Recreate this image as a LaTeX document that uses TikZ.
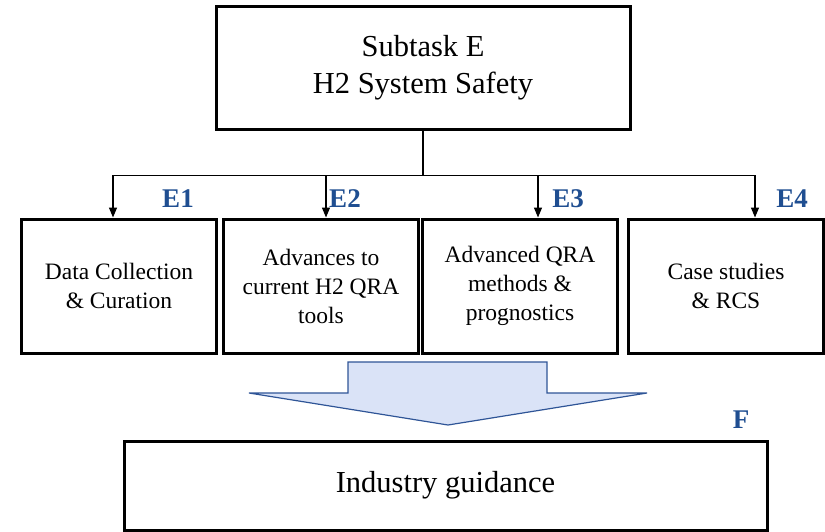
\documentclass[tikz,border=0pt]{standalone}
\usepackage{fontspec}
\setmainfont{Liberation Serif}
\usetikzlibrary{arrows.meta,positioning}
\definecolor{tagblue}{RGB}{31,78,145}
\definecolor{flowfill}{RGB}{218,227,247}
\definecolor{flowedge}{RGB}{47,85,151}

\begin{document}
\begin{tikzpicture}[
x=1pt, y=-1pt,
box/.style={draw, line width=3pt, align=center, inner sep=0pt, minimum width=195pt, minimum height=134pt, font=\fontsize{23.5}{29}\selectfont},
bigbox/.style={box, font=\fontsize{30.5}{37}\selectfont},
tag/.style={text=tagblue, font=\fontsize{27}{30}\selectfont\bfseries},
arrow/.style={-{Triangle[length=10pt,width=8pt]}, line width=1.3pt}
]
\useasboundingbox (0,0) rectangle (825,531);
\node[bigbox, minimum width=414pt, minimum height=123pt] (subtask) at (423,67.5) {Subtask E\\H2 System Safety};
\node[box] (e1) at (119,286) {Data Collection\\\& Curation};
\node[box, right=4pt of e1] (e2) {Advances to\\current H2 QRA\\tools};
\node[box, right=1pt of e2] (e3) {Advanced QRA\\methods \&\\prognostics};
\node[box, right=8pt of e3] (e4) {Case studies\\\& RCS};
\node[bigbox, minimum width=643pt, minimum height=89pt] (guide) at (445.5,485.5) {Industry guidance};
\node[tag] (t1) at (178,199) {E1};
\node[tag] (t2) at (345,199) {E2};
\node[tag] (t3) at (568,199) {E3};
\node[tag] (t4) at (792,199) {E4};
\node[tag] (tf) at (741,420) {F};
\coordinate[below=45pt of subtask.south] (bus);
\draw[line width=1.8pt] (subtask.south) -- (bus);
\draw[arrow] (bus) -| ([xshift=-6pt]e1.north);
\draw[arrow] (bus) -| ([xshift=5pt]e2.north);
\draw[arrow] (bus) -| ([xshift=18pt]e3.north);
\draw[arrow] (bus) -| ([xshift=29pt]e4.north);
% wide block arrow down to the guidance box
\filldraw[fill=flowfill, draw=flowedge, line width=1.2pt] (348,362) -- (547,362) -- (547,393) -- (647,393) -- (448,425) -- (249,393) -- (348,393) -- cycle;
\end{tikzpicture}
\end{document}
